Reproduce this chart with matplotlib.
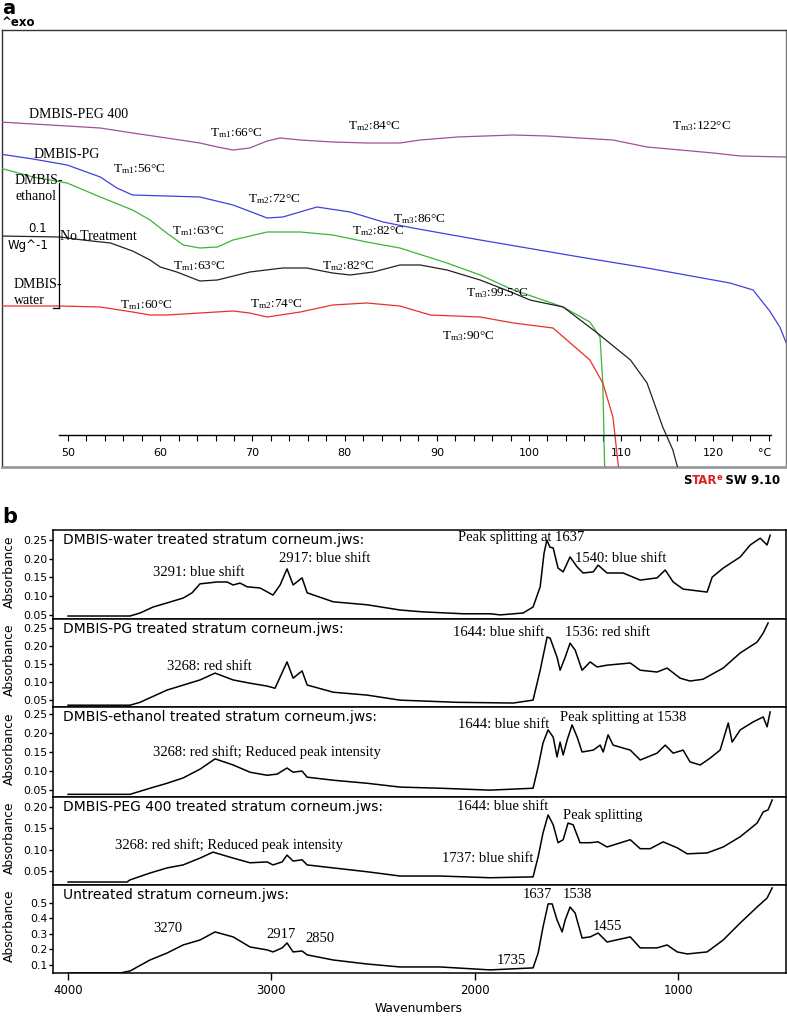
import matplotlib
matplotlib.use('Agg')
import matplotlib.pyplot as plt

W, H = 787, 1016
plt.rcParams['font.family'] = ['DejaVu Sans']
plt.rcParams['mathtext.fontset'] = 'custom'
plt.rcParams['mathtext.rm'] = 'Liberation Serif'
plt.rcParams['mathtext.it'] = 'Liberation Serif:italic'
plt.rcParams['mathtext.bf'] = 'Liberation Serif:bold'
SERIF = 'Liberation Serif'

# ---------------- Panel a: DSC curves (temperature °C, heat flow in arbitrary units; 125 units = 0.1 W/g)
peg_T = [42.6, 46.2, 49.9, 53.5, 57.0, 60.7, 64.3, 66.2, 67.9, 69.7, 71.6, 73.0, 75.2, 78.7, 82.4, 86.0,
         88.2, 92.2, 98.3, 102.0, 105.5, 109.1, 112.8, 116.4, 120.0, 122.9, 127.9]
peg_hf = [345, 343, 341, 339, 334, 329, 324, 320, 317, 319, 326, 329, 327, 325, 324, 324,
          327, 330, 332, 331, 329, 327, 320, 317, 314, 311, 310]

pg_T = [42.6, 46.2, 49.9, 53.5, 55.3, 57.0, 60.7, 64.3, 67.9, 71.6, 73.3, 77.0, 80.6, 84.2, 87.4, 94.7,
        105.5, 112.8, 121.8, 124.3, 126.1, 127.2, 127.9]
pg_hf = [313, 308, 302, 290, 279, 272, 271, 270, 262, 249, 250, 260, 255, 245, 239, 227,
         210, 199, 184, 177, 156, 140, 124]

eth_T = [42.6, 46.2, 49.9, 53.5, 57.0, 58.9, 60.7, 62.5, 64.3, 66.2, 67.9, 71.6, 75.2, 78.7, 82.4, 86.0,
         91.1, 94.7, 98.3, 99.3, 103.7, 106.6, 107.7, 108.0, 108.2]
eth_hf = [299, 290, 284, 270, 257, 247, 234, 222, 219, 220, 227, 235, 235, 232, 225, 219,
          204, 192, 177, 174, 160, 145, 130, 84, 0]

nt_T = [42.6, 49.1, 51.6, 54.6, 57.0, 58.9, 60.0, 61.8, 64.3, 66.2, 69.7, 73.3, 75.9, 78.7, 80.6, 83.1,
        86.0, 88.2, 91.1, 94.7, 98.3, 100.1, 103.7, 107.4, 111.0, 112.8, 114.5, 115.6, 116.1]
nt_hf = [231, 230, 227, 224, 216, 207, 200, 195, 186, 187, 195, 199, 199, 194, 192, 195,
         202, 202, 197, 187, 174, 167, 160, 134, 107, 84, 40, 17, 0]

wat_T = [42.6, 49.1, 53.5, 57.0, 58.9, 60.7, 64.3, 67.9, 69.7, 71.6, 75.2, 78.7, 82.4, 86.0, 89.3, 94.7,
         98.3, 102.6, 104.1, 106.6, 108.0, 109.1, 109.7]
wat_hf = [161, 161, 160, 155, 152, 152, 154, 156, 154, 150, 155, 162, 164, 161, 152, 150,
          144, 139, 127, 107, 84, 50, 0]

dsc_series = [(peg_T, peg_hf, '#9e4f9e'), (pg_T, pg_hf, '#4040dd'), (eth_T, eth_hf, '#3cb43c'),
              (nt_T, nt_hf, '#222222'), (wat_T, wat_hf, '#e8302a')]

temp_major = [50, 60, 70, 80, 90, 100, 110, 120]
temp_minor = list(range(50, 127, 2))

# ---------------- Panel b: FTIR spectra
wat_wn = [4000, 3695, 3646, 3582, 3513, 3434, 3390, 3351, 3316, 3267, 3218, 3188, 3154, 3119, 3056, 2992,
          2957, 2923, 2893, 2849, 2824, 2696, 2529, 2367, 2254, 2057, 1924, 1875, 1762, 1713, 1678, 1659,
          1645, 1630, 1614, 1590, 1565, 1531, 1496, 1467, 1417, 1393, 1349, 1270, 1186, 1103, 1063, 1024,
          975, 857, 832, 778, 694, 645, 596, 562, 547]
wat_ab = [.047, .047, .055, .071, .082, .095, .109, .133, .135, .138, .138, .130, .135, .125, .122, .103,
          .130, .173, .130, .149, .109, .085, .077, .063, .058, .053, .053, .050, .055, .071, .125, .215,
          .250, .231, .229, .175, .165, .205, .178, .162, .165, .183, .162, .162, .143, .149, .170, .138,
          .119, .111, .151, .175, .205, .237, .255, .237, .263]

pg_wn = [4000, 3695, 3646, 3513, 3351, 3277, 3188, 3105, 3021, 2982, 2957, 2923, 2893, 2849, 2824, 2696,
         2529, 2367, 2087, 1811, 1713, 1678, 1644, 1629, 1595, 1580, 1555, 1531, 1506, 1472, 1432, 1398,
         1349, 1235, 1186, 1103, 1054, 990, 941, 877, 778, 694, 611, 581, 557]
pg_ab = [.036, .036, .044, .078, .106, .125, .106, .097, .089, .083, .114, .156, .111, .131, .092, .072,
         .064, .050, .044, .042, .050, .133, .225, .222, .169, .133, .169, .208, .189, .133, .156, .142,
         .147, .153, .133, .128, .139, .111, .103, .108, .139, .181, .211, .236, .264]

eth_wn = [4000, 3695, 3597, 3513, 3434, 3351, 3277, 3188, 3105, 3021, 2972, 2923, 2893, 2849, 2824, 2696,
          2529, 2367, 2170, 1924, 1713, 1688, 1664, 1639, 1614, 1595, 1580, 1565, 1545, 1521, 1496, 1472,
          1417, 1383, 1368, 1344, 1319, 1235, 1186, 1103, 1063, 1024, 975, 941, 891, 842, 793, 753,
          734, 694, 630, 581, 562, 547]
eth_ab = [.039, .039, .055, .068, .082, .105, .132, .116, .097, .089, .092, .108, .097, .100, .084, .076,
          .068, .058, .055, .050, .055, .111, .174, .208, .189, .137, .176, .142, .182, .221, .189, .150,
          .155, .168, .150, .195, .168, .155, .129, .147, .168, .147, .155, .124, .116, .134, .155, .226,
          .176, .208, .229, .242, .216, .255]

peg_wn = [4000, 3710, 3695, 3597, 3513, 3434, 3351, 3287, 3188, 3105, 3021, 2992, 2947, 2923, 2893, 2849,
          2824, 2696, 2529, 2367, 2170, 1924, 1713, 1688, 1664, 1639, 1614, 1590, 1565, 1541, 1516, 1482,
          1432, 1393, 1349, 1235, 1186, 1137, 1073, 1004, 955, 857, 778, 694, 611, 581, 557, 537]
peg_ab = [.024, .024, .029, .045, .057, .064, .080, .094, .080, .069, .071, .064, .071, .087, .073, .076,
          .064, .057, .048, .038, .038, .034, .036, .083, .139, .181, .158, .116, .123, .162, .158, .116,
          .116, .118, .106, .123, .102, .102, .118, .104, .090, .092, .106, .130, .162, .188, .193, .216]

unt_wn = [4000, 3744, 3695, 3597, 3513, 3434, 3351, 3277, 3188, 3105, 3021, 2992, 2947, 2923, 2893, 2849,
          2824, 2696, 2529, 2367, 2170, 1924, 1713, 1688, 1664, 1639, 1619, 1595, 1570, 1555, 1531, 1506,
          1472, 1432, 1393, 1349, 1235, 1186, 1103, 1054, 1004, 955, 857, 778, 694, 611, 562, 537]
unt_ab = [.048, .048, .061, .132, .177, .229, .261, .313, .281, .216, .197, .184, .210, .242, .184, .190,
          .165, .132, .106, .087, .087, .068, .081, .177, .345, .494, .494, .390, .313, .390, .474, .435,
          .274, .281, .306, .248, .281, .210, .210, .229, .184, .171, .184, .261, .371, .474, .532, .597]

ir_titles = ['DMBIS-water treated stratum corneum.jws:', 'DMBIS-PG treated stratum corneum.jws:',
             'DMBIS-ethanol treated stratum corneum.jws:', 'DMBIS-PEG 400 treated stratum corneum.jws:',
             'Untreated stratum corneum.jws:']
ir_series = [(wat_wn, wat_ab), (pg_wn, pg_ab), (eth_wn, eth_ab), (peg_wn, peg_ab), (unt_wn, unt_ab)]
ir_ylims = [(0.039, 0.277), (0.031, 0.275), (0.032, 0.268), (0.017, 0.223), (0.048, 0.616)]
ir_yticks = [[0.05, 0.10, 0.15, 0.20, 0.25], [0.05, 0.10, 0.15, 0.20, 0.25], [0.05, 0.10, 0.15, 0.20, 0.25],
             [0.05, 0.10, 0.15, 0.20], [0.1, 0.2, 0.3, 0.4, 0.5]]
ir_yfmt = ['%.2f', '%.2f', '%.2f', '%.2f', '%.1f']
wn_ticks = [4000, 3000, 2000, 1000]

fig = plt.figure(figsize=(W / 100, H / 100), dpi=100)


def ptext(x, y, s, **kw):
    kw.setdefault('va', 'center')
    kw.setdefault('ha', 'left')
    return fig.text(x / W, 1 - y / H, s, **kw)


def rect(l, t, r, b):
    return [l / W, 1 - b / H, (r - l) / W, (b - t) / H]


# ---------------- Panel a
axf = fig.add_axes(rect(2, 30, 786, 467))
axf.set_xticks([])
axf.set_yticks([])
for s in axf.spines.values():
    s.set_color('#333333')
    s.set_linewidth(1.0)
axf.spines['bottom'].set_color('#999999')
axf.spines['bottom'].set_linewidth(2.0)
axf.spines['right'].set_color('#777777')

ax = fig.add_axes(rect(2, 30, 786, 467))
ax.patch.set_visible(False)
ax.set_xlim(42.84, 127.87)
ax.set_ylim(0, 437)
for k in ['top', 'left', 'right']:
    ax.spines[k].set_visible(False)
ax.spines['bottom'].set_position(('data', 32))
ax.spines['bottom'].set_bounds(49.02, 126.25)
ax.spines['bottom'].set_linewidth(1.0)
ax.set_yticks([])
ax.set_xticks(temp_major)
ax.set_xticks(temp_minor, minor=True)
ax.tick_params(axis='x', which='both', direction='out', length=4, width=0.8, labelsize=8, pad=5)

for T, hf, c in dsc_series:
    ax.plot(T, hf, color=c, lw=0.9)

# scale bar (0.1 W/g)
SCALE_T, SCALE_BOT, SCALE_LEN = 49.02, 159, 125
ax.plot([SCALE_T, SCALE_T], [SCALE_BOT, SCALE_BOT + SCALE_LEN], color='k', lw=0.9)
ax.plot([48.4, SCALE_T], [SCALE_BOT, SCALE_BOT], color='k', lw=0.9)

ptext(765, 453, '°C', fontsize=8, ha='center')
ptext(2, 8, 'a', fontsize=14, weight='bold')
ptext(2, 23, '^exo', fontsize=8.5, weight='bold')

sfs = 10
ptext(29, 115, 'DMBIS-PEG 400', fontsize=sfs, family=SERIF)
ptext(34, 155, 'DMBIS-PG', fontsize=sfs, family=SERIF)
ptext(15, 180, 'DMBIS-', fontsize=sfs, family=SERIF)
ptext(15, 196, 'ethanol', fontsize=sfs, family=SERIF)
ptext(47, 229, '0.1', fontsize=8.5, ha='right')
ptext(8, 246, 'Wg^-1', fontsize=8.5)
ptext(60, 237, 'No Treatment', fontsize=sfs, family=SERIF)
ptext(14, 284, 'DMBIS-', fontsize=sfs, family=SERIF)
ptext(14, 301, 'water', fontsize=sfs, family=SERIF)

tm_labels = [
    (210, 132, 'm1', '66'), (348, 125, 'm2', '84'), (672, 125, 'm3', '122'),
    (113, 168, 'm1', '56'), (248, 198, 'm2', '72'), (393, 218, 'm3', '86'),
    (172, 230, 'm1', '63'), (352, 230, 'm2', '82'),
    (173, 265, 'm1', '63'), (322, 265, 'm2', '82'), (466, 292, 'm3', '99.5'),
    (120, 304, 'm1', '60'), (250, 303, 'm2', '74'), (442, 335, 'm3', '90'),
]
for x, y, sub, val in tm_labels:
    ptext(x, y + 4, r'T$_{\mathrm{%s}}$:%s°C' % (sub, val), fontsize=9.5, family=SERIF, va='baseline')

# STARe SW 9.10
renderer = fig.canvas.get_renderer()
xcur = 683
for s, c, sup in [('S', 'k', False), ('TAR', '#e02020', False), ('e', '#e02020', True), ('\u2009SW 9.10', 'k', False)]:
    t = ptext(xcur, 484 - (4 if sup else 0), s, color=c, fontsize=6 if sup else 8.5,
              weight='bold', va='baseline', family=['DejaVu Sans'])
    xcur += t.get_window_extent(renderer).width

# ---------------- Panel b
ptext(2, 517, 'b', fontsize=15, weight='bold')
tops = [530, 619, 707, 797, 885]
bots = [619, 707, 797, 885, 973]
axes_b = []
for i in range(5):
    a = fig.add_axes(rect(53, tops[i], 786, bots[i]))
    wn, ab = ir_series[i]
    a.plot(wn, ab, color='k', lw=1.1)
    a.set_xlim(4074, 469)
    a.set_ylim(*ir_ylims[i])
    a.set_yticks(ir_yticks[i])
    a.set_yticklabels([ir_yfmt[i] % v for v in ir_yticks[i]])
    a.tick_params(axis='y', direction='out', length=3, width=1.0, labelsize=7.8, pad=1)
    if i < 4:
        a.set_xticks([])
    else:
        a.set_xticks(wn_ticks)
        a.set_xticklabels([str(v) for v in wn_ticks])
        a.tick_params(axis='x', direction='out', length=5, width=1.0, labelsize=8.5, pad=3)
    for s in a.spines.values():
        s.set_linewidth(1.1)
    ptext(63, tops[i] + 10, ir_titles[i], fontsize=10)
    ptext(9, (tops[i] + bots[i]) / 2 - 3, 'Absorbance', fontsize=8.8, rotation=90, ha='center')
    axes_b.append(a)

ir_notes = [
    (153, 572, '3291: blue shift'), (279, 559, '2917: blue shift'), (458, 538, 'Peak splitting at 1637'),
    (575, 559, '1540: blue shift'),
    (167, 666, '3268: red shift'), (453, 632, '1644: blue shift'), (565, 632, '1536: red shift'),
    (153, 752, '3268: red shift; Reduced peak intensity'), (458, 724, '1644: blue shift'),
    (560, 717, 'Peak splitting at 1538'),
    (115, 845, '3268: red shift; Reduced peak intensity'), (457, 807, '1644: blue shift'),
    (563, 815, 'Peak splitting'), (442, 858, '1737: blue shift'),
    (153, 928, '3270'), (266, 935, '2917'), (305, 939, '2850'), (523, 895, '1637'), (563, 895, '1538'),
    (593, 927, '1455'), (497, 960, '1735'),
]
for x, y, s in ir_notes:
    ptext(x, y, s, fontsize=10.5, family=SERIF)

ptext(419, 1008, 'Wavenumbers', fontsize=8.8, ha='center')

fig.savefig('out.png', dpi=100)
